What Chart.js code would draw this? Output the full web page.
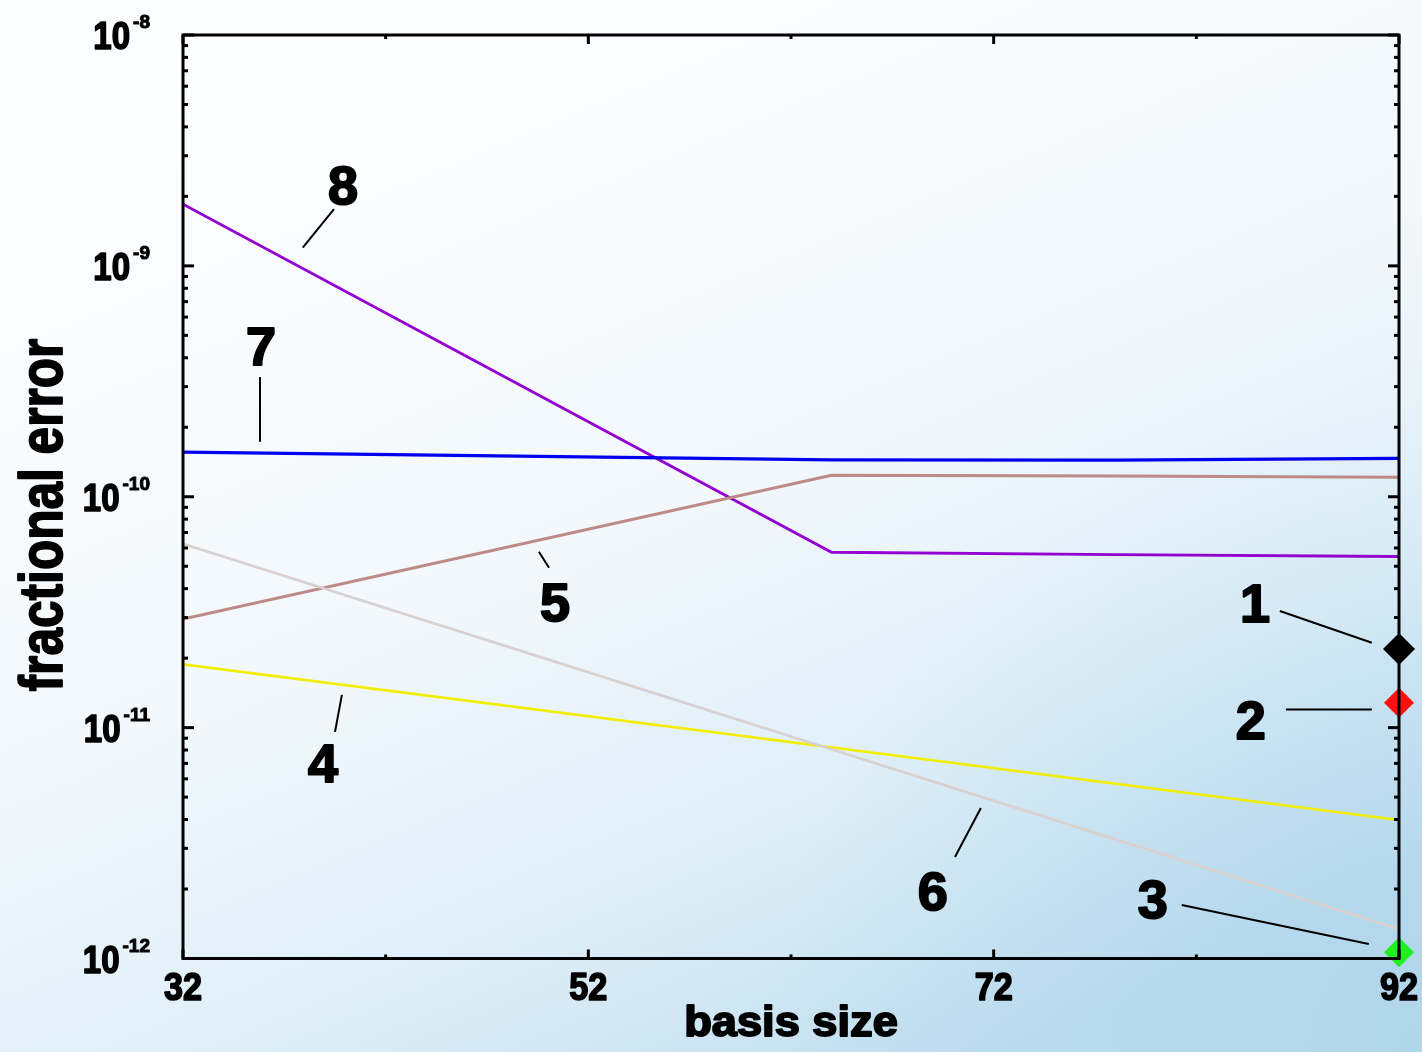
<!DOCTYPE html>
<html>
<head>
<meta charset="utf-8">
<script src="https://cdn.jsdelivr.net/npm/chart.js@4.4.0/dist/chart.umd.min.js"></script>
<style>
  html, body { margin: 0; padding: 0; background: #fff; }
  #wrap { width: 1422px; height: 1052px; position: relative; }
</style>
</head>
<body>
<div id="wrap"><canvas id="chart"></canvas></div>
<script>
// fractional error vs basis size
const sizes8 = [32, 64, 78, 92];
const error8 = [1.85e-9, 5.75e-11, 5.62e-11, 5.51e-11];
const sizes7 = [32, 64, 78, 92];
const error7 = [1.56e-10, 1.445e-10, 1.44e-10, 1.467e-10];
const sizes5 = [32, 64, 78, 92];
const error5 = [2.95e-11, 1.24e-10, 1.23e-10, 1.214e-10];
const sizes6 = [32, 92];
const error6 = [6.25e-11, 1.34e-12];
const sizes4 = [32, 92];
const error4 = [1.88e-11, 3.98e-12];
const error1 = 2.19e-11;
const error2 = 1.28e-11;
const error3 = 1.065e-12;

const xTicks = [32, 52, 72, 92];
const xMinorTicks = [42, 62, 82];
const yDecades = [-12, -11, -10, -9, -8];

// curve numbers with their leader lines (data coordinates)
const callouts = [
  { text: "8", at: [39.89, 2.24e-9], from: [37.91, 1.2e-9], to: [39.45, 1.76e-9] },
  { text: "7", at: [35.85, 4.5e-10], from: [35.8, 3.3e-10], to: [35.8, 1.73e-10] },
  { text: "5", at: [50.35, 3.5e-11], from: [49.56, 5.78e-11], to: [50.06, 4.93e-11] },
  { text: "4", at: [38.91, 7.03e-12], from: [39.84, 1.387e-11], to: [39.5, 9.59e-12] },
  { text: "6", at: [69.0, 1.96e-12], from: [70.09, 2.75e-12], to: [71.37, 4.49e-12] },
  { text: "1", at: [84.89, 3.47e-11], from: [86.12, 3.2e-11], to: [90.66, 2.33e-11] },
  { text: "2", at: [84.69, 1.08e-11], from: [86.42, 1.197e-11], to: [90.66, 1.197e-11] },
  { text: "3", at: [79.85, 1.81e-12], from: [81.28, 1.706e-12], to: [90.51, 1.156e-12] },
];

const FONT = '"Liberation Sans", Arial, sans-serif';

function pts(xs, ys) {
  return xs.map((x, i) => ({ x, y: ys[i] }));
}

// bold text, a bit heavier than the font gives, with optional stretch
function drawText(ctx, text, x, y, size, sx, sy, align, rot, heavy) {
  ctx.save();
  ctx.translate(x, y);
  if (rot) ctx.rotate(rot);
  ctx.scale(sx, sy);
  ctx.font = "bold " + size + "px " + FONT;
  ctx.textAlign = align || "center";
  ctx.textBaseline = "alphabetic";
  ctx.fillStyle = "#000";
  ctx.fillText(text, 0, 0);
  ctx.strokeStyle = "#000";
  ctx.lineJoin = "round";
  ctx.lineWidth = heavy == null ? 1.4 : heavy;
  ctx.strokeText(text, 0, 0);
  ctx.restore();
}

function line(ctx, x1, y1, x2, y2) {
  ctx.beginPath();
  ctx.moveTo(x1, y1);
  ctx.lineTo(x2, y2);
  ctx.stroke();
}

const backdrop = {
  id: "backdrop",
  beforeDraw(chart) {
    const ctx = chart.ctx;
    const g = ctx.createLinearGradient(560, 0, 1000, 1052);
    g.addColorStop(0, "#fcfdff");
    g.addColorStop(0.45, "#f2f8fc");
    g.addColorStop(0.75, "#deeef7");
    g.addColorStop(1, "#c0deef");
    ctx.save();
    ctx.fillStyle = g;
    ctx.fillRect(0, 0, chart.width, chart.height);
    const r = ctx.createRadialGradient(1422, 1052, 0, 1422, 1052, 650);
    r.addColorStop(0, "rgba(160,206,232,0.5)");
    r.addColorStop(1, "rgba(160,206,232,0)");
    ctx.fillStyle = r;
    ctx.fillRect(0, 0, chart.width, chart.height);
    ctx.restore();
  },
};

const frame = {
  id: "frame",
  afterDatasetsDraw(chart) {
    const ctx = chart.ctx;
    const a = chart.chartArea;
    const xs = chart.scales.x, ys = chart.scales.y;
    ctx.save();
    ctx.strokeStyle = "#000";
    ctx.lineWidth = 3;
    ctx.strokeRect(a.left, a.top, a.right - a.left, a.bottom - a.top);

    // y ticks, inward on both sides
    yDecades.forEach(d => {
      const py = ys.getPixelForValue(Math.pow(10, d));
      ctx.lineWidth = 3;
      line(ctx, a.left, py, a.left + 11, py);
      line(ctx, a.right, py, a.right - 11, py);
      if (d < -8) {
        for (let k = 2; k <= 9; k++) {
          const my = ys.getPixelForValue(k * Math.pow(10, d));
          line(ctx, a.left, my, a.left + 5, my);
          line(ctx, a.right, my, a.right - 5, my);
        }
      }
      // label 10^d
      const base = "10", sup = String(d);
      ctx.font = "bold 38px " + FONT;
      const wBase = ctx.measureText(base).width * 0.87;
      ctx.font = "bold 19px " + FONT;
      const wSup = ctx.measureText(sup).width;
      const right = 150;
      drawText(ctx, base, right - wSup - 3 - wBase, py + 14, 38, 0.87, 1.03, "left", 0, 1.6);
      drawText(ctx, sup, right - wSup, py - 7, 19, 1, 1, "left", 0, 1);
    });

    // x ticks
    ctx.lineWidth = 3;
    xTicks.forEach(v => {
      const px = xs.getPixelForValue(v);
      line(ctx, px, a.bottom, px, a.bottom - 9);
      line(ctx, px, a.top, px, a.top + 9);
      drawText(ctx, String(v), px, 1000, 36, 0.95, 1.06, "center", 0, 1.6);
    });
    xMinorTicks.forEach(v => {
      const px = xs.getPixelForValue(v);
      line(ctx, px, a.bottom, px, a.bottom - 4);
      line(ctx, px, a.top, px, a.top + 4);
    });

    // axis titles
    drawText(ctx, "basis size", 791, 1036, 40, 1.13, 1.05, "center", 0, 1.8);
    drawText(ctx, "fractional error", 62, 515, 62, 0.8, 1, "center", -Math.PI / 2, 1.8);

    // callouts
    ctx.lineWidth = 2;
    callouts.forEach(c => {
      line(ctx,
        xs.getPixelForValue(c.from[0]), ys.getPixelForValue(c.from[1]),
        xs.getPixelForValue(c.to[0]), ys.getPixelForValue(c.to[1]));
      const px = xs.getPixelForValue(c.at[0]);
      const py = ys.getPixelForValue(c.at[1]);
      drawText(ctx, c.text, px, py + 19, 54, 1, 1, "center", 0, 2);
    });
    ctx.restore();
  },
};

const lineStyle = { showLine: true, pointRadius: 0, fill: false, tension: 0, borderWidth: 3 };
const dotStyle = { showLine: false, pointStyle: "rectRot", pointRadius: 16, pointBorderWidth: 0, clip: false };

new Chart(document.getElementById("chart"), {
  type: "scatter",
  data: {
    datasets: [
      { ...lineStyle, label: "6", data: pts(sizes6, error6), borderColor: "#d8d1cf", borderWidth: 2.7 },
      { ...lineStyle, label: "4", data: pts(sizes4, error4), borderColor: "#f2ee00", borderWidth: 2.7 },
      { ...lineStyle, label: "5", data: pts(sizes5, error5), borderColor: "#bd8a88" },
      { ...lineStyle, label: "7", data: pts(sizes7, error7), borderColor: "#0000ee", borderWidth: 3.2 },
      { ...lineStyle, label: "8", data: pts(sizes8, error8), borderColor: "#9300d0", borderWidth: 2.8 },
      { ...dotStyle, label: "1", data: [{ x: 92, y: error1 }], backgroundColor: "#000", borderColor: "#000" },
      { ...dotStyle, label: "2", data: [{ x: 92, y: error2 }], backgroundColor: "#ff1010", borderColor: "#ff1010", pointRadius: 15 },
      { ...dotStyle, label: "3", data: [{ x: 92, y: error3 }], backgroundColor: "#20ee20", borderColor: "#20ee20", pointRadius: 15 },
    ],
  },
  options: {
    responsive: true,
    maintainAspectRatio: false,
    animation: false,
    layout: { padding: { left: 183, right: 23, top: 35, bottom: 93.5 } },
    plugins: { legend: { display: false }, tooltip: { enabled: false } },
    scales: {
      x: { type: "linear", min: 32, max: 92, display: false },
      y: { type: "logarithmic", min: 1e-12, max: 1e-8, display: false },
    },
  },
  plugins: [backdrop, frame],
});
</script>
</body>
</html>
